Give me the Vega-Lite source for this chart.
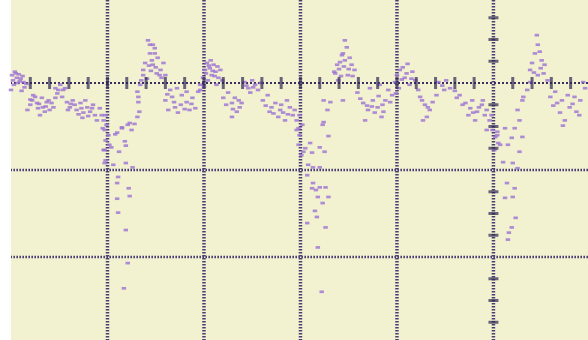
{
  "$schema": "https://vega.github.io/schema/vega-lite/v6.json",
  "width": 577,
  "height": 340,
  "autosize": "none",
  "padding": {"left": 11, "top": 0, "right": 0, "bottom": 0},
  "background": "white",
  "config": {"view": {"fill": "#f2f2d0", "stroke": null}},
  "datasets": {
    "hgrid": [{"v": -10}, {"v": -20}],
    "zero": [{"v": 0}],
    "vgrid": [{"t": 10}, {"t": 20}, {"t": 30}, {"t": 40}, {"t": 50}],
    "hticks": [{"t": 2}, {"t": 4}, {"t": 6}, {"t": 8}, {"t": 10}, {"t": 12}, {"t": 14}, {"t": 16}, {"t": 18}, {"t": 20}, {"t": 22}, {"t": 24}, {"t": 26}, {"t": 28}, {"t": 30}, {"t": 32}, {"t": 34}, {"t": 36}, {"t": 38}, {"t": 40}, {"t": 42}, {"t": 44}, {"t": 46}, {"t": 48}, {"t": 52}, {"t": 54}, {"t": 56}, {"t": 58}],
    "vticks": [{"v": 7.5}, {"v": 5}, {"v": 2.5}, {"v": -2.5}, {"v": -5}, {"v": -7.5}, {"v": -12.5}, {"v": -15}, {"v": -17.5}, {"v": -22.5}, {"v": -25}, {"v": -27.5}],
    "signal": [
      {"t":0.1,"v":0.9},{"t":0.2,"v":0.3},{"t":0.4,"v":1.3},{"t":0.6,"v":0.6},{"t":0.8,"v":1.0},{"t":1.0,"v":0.5},{"t":1.2,"v":0.8},{"t":0.3,"v":-0.2},{"t":0.7,"v":0.0},{"t":1.3,"v":0.1},{"t":1.6,"v":-0.1},{"t":0.0,"v":-0.8},{"t":0.5,"v":1.1},{"t":0.9,"v":0.2},{"t":1.4,"v":-0.5},{"t":1.1,"v":-0.9},
      {"t":1.7,"v":-3.1},{"t":2.0,"v":-2.5},{"t":2.3,"v":-1.4},{"t":2.2,"v":-2.0},{"t":2.7,"v":-2.3},{"t":3.2,"v":-1.7},{"t":2.8,"v":-2.9},{"t":3.3,"v":-2.8},{"t":3.0,"v":-3.7},{"t":3.7,"v":-2.2},{"t":4.0,"v":-3.1},{"t":4.6,"v":-1.7},{"t":4.4,"v":-2.8},{"t":4.6,"v":-0.6},{"t":4.9,"v":-0.8},{"t":5.1,"v":-0.2},{"t":5.3,"v":-1.6},{"t":5.4,"v":-0.8},{"t":5.6,"v":-0.6},{"t":5.8,"v":-2.2},{"t":6.1,"v":-2.8},{"t":6.4,"v":-2.0},{"t":6.8,"v":-3.1},{"t":7.2,"v":-2.3},{"t":7.4,"v":-4.0},{"t":7.5,"v":-3.4},{"t":7.9,"v":-2.8},{"t":8.2,"v":-3.3},{"t":8.5,"v":-2.5},{"t":8.7,"v":-3.7},{"t":8.9,"v":-4.3},{"t":2.5,"v":-1.6},{"t":3.5,"v":-3.3},{"t":5.9,"v":-3.1},{"t":7.7,"v":-2.0},{"t":9.2,"v":-2.9},{"t":9.4,"v":-3.7},
      {"t":2.0,"v":-1.9},{"t":2.9,"v":-2.4},{"t":3.6,"v":-2.7},{"t":4.2,"v":-2.3},{"t":4.8,"v":-1.2},{"t":6.6,"v":-2.5},{"t":7.0,"v":-3.6},{"t":7.3,"v":-2.9},{"t":8.0,"v":-3.8},{"t":8.4,"v":-2.9},{"t":6.2,"v":-2.4},{"t":3.9,"v":-2.0},
      {"t":9.6,"v":-4.3},{"t":9.7,"v":-5.4},{"t":9.8,"v":-6.6},{"t":9.6,"v":-7.7},{"t":9.8,"v":-8.9},{"t":9.9,"v":-4.8},{"t":10.1,"v":-6.0},{"t":9.5,"v":-5.2},{"t":9.8,"v":-3.7},{"t":10.2,"v":-7.1},{"t":9.7,"v":-7.7},{"t":9.7,"v":-9.2},
      {"t":11.5,"v":-5.1},{"t":12.3,"v":-4.6},{"t":10.8,"v":-5.9},{"t":11.8,"v":-6.7},{"t":10.4,"v":-7.4},{"t":11.2,"v":-7.9},{"t":11.9,"v":-7.2},{"t":10.6,"v":-9.4},{"t":11.9,"v":-9.2},{"t":12.6,"v":-9.7},{"t":11.1,"v":-10.8},{"t":11.0,"v":-11.5},{"t":12.2,"v":-12.1},{"t":12.3,"v":-13.0},{"t":11.0,"v":-13.3},{"t":11.1,"v":-14.9},{"t":11.9,"v":-16.9},{"t":12.1,"v":-20.7},{"t":11.7,"v":-23.6},
      {"t":13.1,"v":-1.0},{"t":13.2,"v":-1.6},{"t":13.2,"v":-2.2},{"t":13.3,"v":-3.3},{"t":13.1,"v":-3.9},{"t":12.8,"v":-4.7},{"t":12.1,"v":-4.8},{"t":11.5,"v":-5.2},{"t":11.0,"v":-5.7},{"t":12.5,"v":-5.4},{"t":13.7,"v":1.5},{"t":13.9,"v":2.3},{"t":14.2,"v":4.9},{"t":14.7,"v":4.4},{"t":14.4,"v":3.4},{"t":14.9,"v":3.4},{"t":14.6,"v":2.6},{"t":15.2,"v":2.9},{"t":14.7,"v":2.1},{"t":15.1,"v":1.1},{"t":15.4,"v":0.9},{"t":15.8,"v":2.3},{"t":14.1,"v":0.5},{"t":13.7,"v":0.9},{"t":13.4,"v":-0.2},{"t":14.4,"v":4.4},{"t":14.9,"v":4.0},{"t":15.6,"v":0.6},{"t":16.0,"v":0.9},
      {"t":14.5,"v":1.4},{"t":15.0,"v":1.8},{"t":15.5,"v":1.5},{"t":14.3,"v":2.0},{"t":13.5,"v":0.3},
      {"t":16.0,"v":-2.0},{"t":16.7,"v":-1.6},{"t":17.7,"v":-1.4},{"t":17.0,"v":-2.8},{"t":16.3,"v":-3.1},{"t":18.2,"v":-2.2},{"t":17.3,"v":-3.4},{"t":16.5,"v":-0.8},{"t":17.2,"v":-0.6},{"t":18.2,"v":-1.0},{"t":18.8,"v":-1.7},{"t":19.1,"v":-2.9},{"t":18.5,"v":-3.1},{"t":19.4,"v":-1.0},{"t":19.6,"v":-0.2},
      {"t":16.9,"v":-2.2},{"t":17.6,"v":-2.5},{"t":18.0,"v":-3.0},{"t":16.2,"v":-1.3},{"t":18.7,"v":-2.4},
      {"t":19.9,"v":0.6},{"t":20.1,"v":1.5},{"t":20.3,"v":2.3},{"t":20.6,"v":1.7},{"t":20.8,"v":0.9},{"t":21.0,"v":2.1},{"t":21.2,"v":1.3},{"t":21.5,"v":0.6},{"t":21.7,"v":1.5},{"t":21.9,"v":0.3},{"t":20.4,"v":0.3},{"t":20.7,"v":2.6},{"t":21.3,"v":-0.2},{"t":19.6,"v":-0.8},
      {"t":20.2,"v":1.1},{"t":20.5,"v":2.0},{"t":20.9,"v":1.4},{"t":21.1,"v":0.8},{"t":21.4,"v":1.9},{"t":20.0,"v":-0.4},
      {"t":22.0,"v":-1.7},{"t":22.9,"v":-2.3},{"t":23.7,"v":-2.8},{"t":23.4,"v":-3.3},{"t":22.9,"v":-3.9},{"t":23.9,"v":-2.3},{"t":22.5,"v":-1.1},{"t":23.2,"v":-1.7},{"t":22.3,"v":-2.5},{"t":23.0,"v":-3.0},{"t":23.6,"v":-2.0},
      {"t":24.2,"v":0.1},{"t":24.6,"v":-0.6},{"t":25.0,"v":0.3},{"t":25.3,"v":-0.2},{"t":25.6,"v":-0.8},{"t":24.8,"v":-1.1},{"t":25.9,"v":0.0},{"t":24.4,"v":-0.3},{"t":25.1,"v":-0.5},
      {"t":26.1,"v":-2.0},{"t":26.6,"v":-1.4},{"t":27.0,"v":-2.8},{"t":27.9,"v":-3.1},{"t":28.6,"v":-2.0},{"t":27.7,"v":-3.9},{"t":27.4,"v":-2.3},{"t":28.2,"v":-3.4},{"t":28.9,"v":-2.8},{"t":29.2,"v":-3.7},{"t":28.4,"v":-4.3},{"t":26.8,"v":-3.3},{"t":29.4,"v":-3.1},{"t":27.2,"v":-3.5},{"t":28.0,"v":-2.5},{"t":28.7,"v":-3.6},{"t":26.4,"v":-2.6},
      {"t":29.6,"v":-4.3},{"t":29.8,"v":-5.2},{"t":29.9,"v":-6.0},{"t":29.8,"v":-7.1},{"t":30.1,"v":-8.3},{"t":30.2,"v":-4.8},{"t":29.6,"v":-5.4},{"t":29.9,"v":-3.7},
      {"t":31.0,"v":-6.9},{"t":30.5,"v":-7.5},{"t":31.2,"v":-8.0},{"t":30.3,"v":-7.9},{"t":32.0,"v":-7.4},{"t":32.5,"v":-7.9},{"t":30.8,"v":-9.4},{"t":31.3,"v":-9.7},{"t":32.0,"v":-9.7},{"t":30.7,"v":-10.6},{"t":31.3,"v":-11.5},{"t":31.2,"v":-12.1},{"t":31.6,"v":-12.3},{"t":32.0,"v":-12.0},{"t":32.6,"v":-12.0},{"t":31.8,"v":-13.1},{"t":32.9,"v":-13.1},{"t":32.3,"v":-13.8},{"t":31.5,"v":-14.7},{"t":31.7,"v":-15.4},{"t":30.7,"v":-16.1},{"t":32.6,"v":-16.6},{"t":31.8,"v":-18.9},{"t":32.2,"v":-24.0},{"t":32.9,"v":-6.1},{"t":32.3,"v":-4.8},{"t":32.4,"v":-4.5},
      {"t":33.1,"v":-2.2},{"t":32.4,"v":-2.0},{"t":33.6,"v":1.1},{"t":33.8,"v":2.1},{"t":34.1,"v":2.4},{"t":34.6,"v":2.6},{"t":34.4,"v":3.4},{"t":34.8,"v":4.1},{"t":34.6,"v":4.9},{"t":35.3,"v":2.1},{"t":35.6,"v":1.5},{"t":34.3,"v":3.2},{"t":33.5,"v":1.3},{"t":34.4,"v":-2.0},{"t":35.1,"v":2.9},{"t":34.9,"v":0.9},{"t":33.9,"v":0.3},{"t":32.8,"v":-3.1},
      {"t":34.0,"v":1.6},{"t":34.5,"v":1.9},{"t":35.0,"v":1.6},{"t":35.4,"v":0.8},{"t":34.2,"v":0.8},
      {"t":35.9,"v":-1.1},{"t":36.5,"v":-2.3},{"t":37.0,"v":-3.1},{"t":36.7,"v":-4.3},{"t":37.5,"v":-2.0},{"t":38.0,"v":-2.8},{"t":38.4,"v":-3.9},{"t":37.7,"v":-3.4},{"t":37.2,"v":-0.6},{"t":38.2,"v":-0.2},{"t":39.1,"v":-0.8},{"t":38.8,"v":-2.0},{"t":39.5,"v":-1.4},{"t":38.5,"v":-2.5},{"t":38.6,"v":-3.3},
      {"t":36.2,"v":-1.8},{"t":36.9,"v":-2.6},{"t":37.4,"v":-2.7},{"t":38.1,"v":-1.5},{"t":39.3,"v":-2.2},
      {"t":40.6,"v":1.8},{"t":41.6,"v":1.3},{"t":40.0,"v":0.9},{"t":40.8,"v":0.6},{"t":40.3,"v":1.5},{"t":41.1,"v":2.2},{"t":41.9,"v":0.3},{"t":39.8,"v":0.1},{"t":41.3,"v":-0.2},{"t":40.2,"v":-0.6},{"t":40.5,"v":0.4},{"t":41.0,"v":1.1},{"t":41.5,"v":0.5},{"t":39.9,"v":-1.2},
      {"t":42.4,"v":-1.6},{"t":42.9,"v":-2.5},{"t":43.4,"v":-3.1},{"t":43.1,"v":-3.9},{"t":42.7,"v":-4.3},{"t":43.7,"v":-2.2},{"t":42.2,"v":-0.8},{"t":44.1,"v":-1.4},{"t":42.6,"v":-2.0},{"t":43.2,"v":-2.8},
      {"t":44.3,"v":0.1},{"t":44.7,"v":-0.3},{"t":45.1,"v":0.3},{"t":45.5,"v":-0.6},{"t":44.9,"v":-0.8},
      {"t":46.2,"v":-1.7},{"t":46.8,"v":-2.5},{"t":47.6,"v":-2.9},{"t":48.3,"v":-3.3},{"t":47.8,"v":-2.0},{"t":48.8,"v":-2.5},{"t":47.4,"v":-3.7},{"t":49.1,"v":-3.7},{"t":48.1,"v":-4.3},{"t":46.5,"v":-1.4},{"t":47.1,"v":-2.3},{"t":47.9,"v":-3.4},{"t":48.5,"v":-2.8},{"t":46.0,"v":-0.9},
      {"t":48.9,"v":-2.0},{"t":49.3,"v":-3.1},{"t":49.6,"v":-4.3},{"t":49.9,"v":-5.4},{"t":50.4,"v":-6.0},{"t":50.5,"v":-6.9},{"t":49.3,"v":-5.4},{"t":50.2,"v":-6.2},{"t":49.8,"v":-3.7},{"t":50.1,"v":-7.7},
      {"t":50.4,"v":-5.6},{"t":51.2,"v":-5.2},{"t":51.9,"v":-6.3},{"t":50.7,"v":-7.1},{"t":51.5,"v":-7.1},{"t":52.7,"v":-7.9},{"t":51.0,"v":-9.1},{"t":52.0,"v":-9.2},{"t":52.5,"v":-9.8},{"t":51.4,"v":-11.5},{"t":52.2,"v":-12.1},{"t":51.2,"v":-13.2},{"t":52.0,"v":-13.1},{"t":52.3,"v":-15.5},{"t":51.9,"v":-16.6},{"t":51.6,"v":-17.2},{"t":51.5,"v":-18.0},{"t":53.0,"v":-6.2},{"t":57.2,"v":-4.9},{"t":52.7,"v":-4.3},
      {"t":52.2,"v":-5.2},{"t":52.5,"v":-3.1},{"t":53.0,"v":-2.0},{"t":53.1,"v":-1.6},{"t":53.8,"v":1.5},{"t":54.0,"v":2.3},{"t":54.3,"v":3.4},{"t":54.6,"v":4.4},{"t":54.5,"v":5.5},{"t":55.0,"v":2.6},{"t":55.2,"v":1.1},{"t":54.6,"v":0.9},{"t":53.8,"v":0.1},{"t":55.6,"v":0.3},{"t":54.8,"v":3.6},{"t":55.3,"v":2.1},{"t":53.5,"v":-0.8},{"t":54.2,"v":1.2},{"t":54.9,"v":1.7},
      {"t":55.9,"v":-1.6},{"t":56.6,"v":-2.3},{"t":56.9,"v":-3.4},{"t":57.4,"v":-4.3},{"t":57.9,"v":-2.8},{"t":58.6,"v":-3.3},{"t":59.0,"v":-2.0},{"t":58.4,"v":-1.6},{"t":56.4,"v":-1.0},{"t":59.5,"v":-0.6},{"t":59.3,"v":0.1},{"t":57.7,"v":-1.4},{"t":56.2,"v":-2.6},{"t":57.1,"v":-2.0},{"t":58.2,"v":-2.4},{"t":58.9,"v":-3.7}
    ]
  },
  "layer": [
    {
      "data": {"name": "hgrid"},
      "mark": {"type": "rule", "color": "#4a3f72", "strokeWidth": 2.5, "strokeDash": [1.6, 1.4]},
      "encoding": {"y": {"field": "v", "type": "quantitative", "scale": {"domain": [-29.54, 9.54], "nice": false, "zero": false}, "axis": null}}
    },
    {
      "data": {"name": "zero"},
      "mark": {"type": "rule", "color": "#3a2f60", "strokeWidth": 2, "strokeDash": [2, 2]},
      "encoding": {"y": {"field": "v", "type": "quantitative", "scale": {"domain": [-29.54, 9.54], "nice": false, "zero": false}, "axis": null}}
    },
    {
      "data": {"name": "vgrid"},
      "mark": {"type": "rule", "color": "#4a3f72", "strokeWidth": 3.5, "strokeDash": [1.6, 1.4]},
      "encoding": {"x": {"field": "t", "type": "quantitative", "scale": {"domain": [0, 59.8], "nice": false, "zero": false}, "axis": null}}
    },
    {
      "data": {"name": "signal"},
      "mark": {"type": "point", "shape": "M-1,-0.6H1V0.6H-1Z", "color": "#9c72d4", "opacity": 0.8, "size": 20, "filled": true},
      "encoding": {
        "x": {"field": "t", "type": "quantitative", "scale": {"domain": [0, 59.8], "nice": false, "zero": false}, "axis": null},
        "y": {"field": "v", "type": "quantitative", "scale": {"domain": [-29.54, 9.54], "nice": false, "zero": false}, "axis": null}
      }
    },
    {
      "data": {"name": "hticks"},
      "mark": {"type": "tick", "orient": "vertical", "color": "#2e2652", "size": 12, "thickness": 3},
      "encoding": {
        "x": {"field": "t", "type": "quantitative", "scale": {"domain": [0, 59.8], "nice": false, "zero": false}, "axis": null},
        "y": {"datum": 0, "type": "quantitative", "scale": {"domain": [-29.54, 9.54], "nice": false, "zero": false}, "axis": null}
      }
    },
    {
      "data": {"name": "vticks"},
      "mark": {"type": "tick", "orient": "horizontal", "color": "#2e2652", "size": 10, "thickness": 3},
      "encoding": {
        "x": {"datum": 50, "type": "quantitative", "scale": {"domain": [0, 59.8], "nice": false, "zero": false}, "axis": null},
        "y": {"field": "v", "type": "quantitative", "scale": {"domain": [-29.54, 9.54], "nice": false, "zero": false}, "axis": null}
      }
    }
  ]
}
